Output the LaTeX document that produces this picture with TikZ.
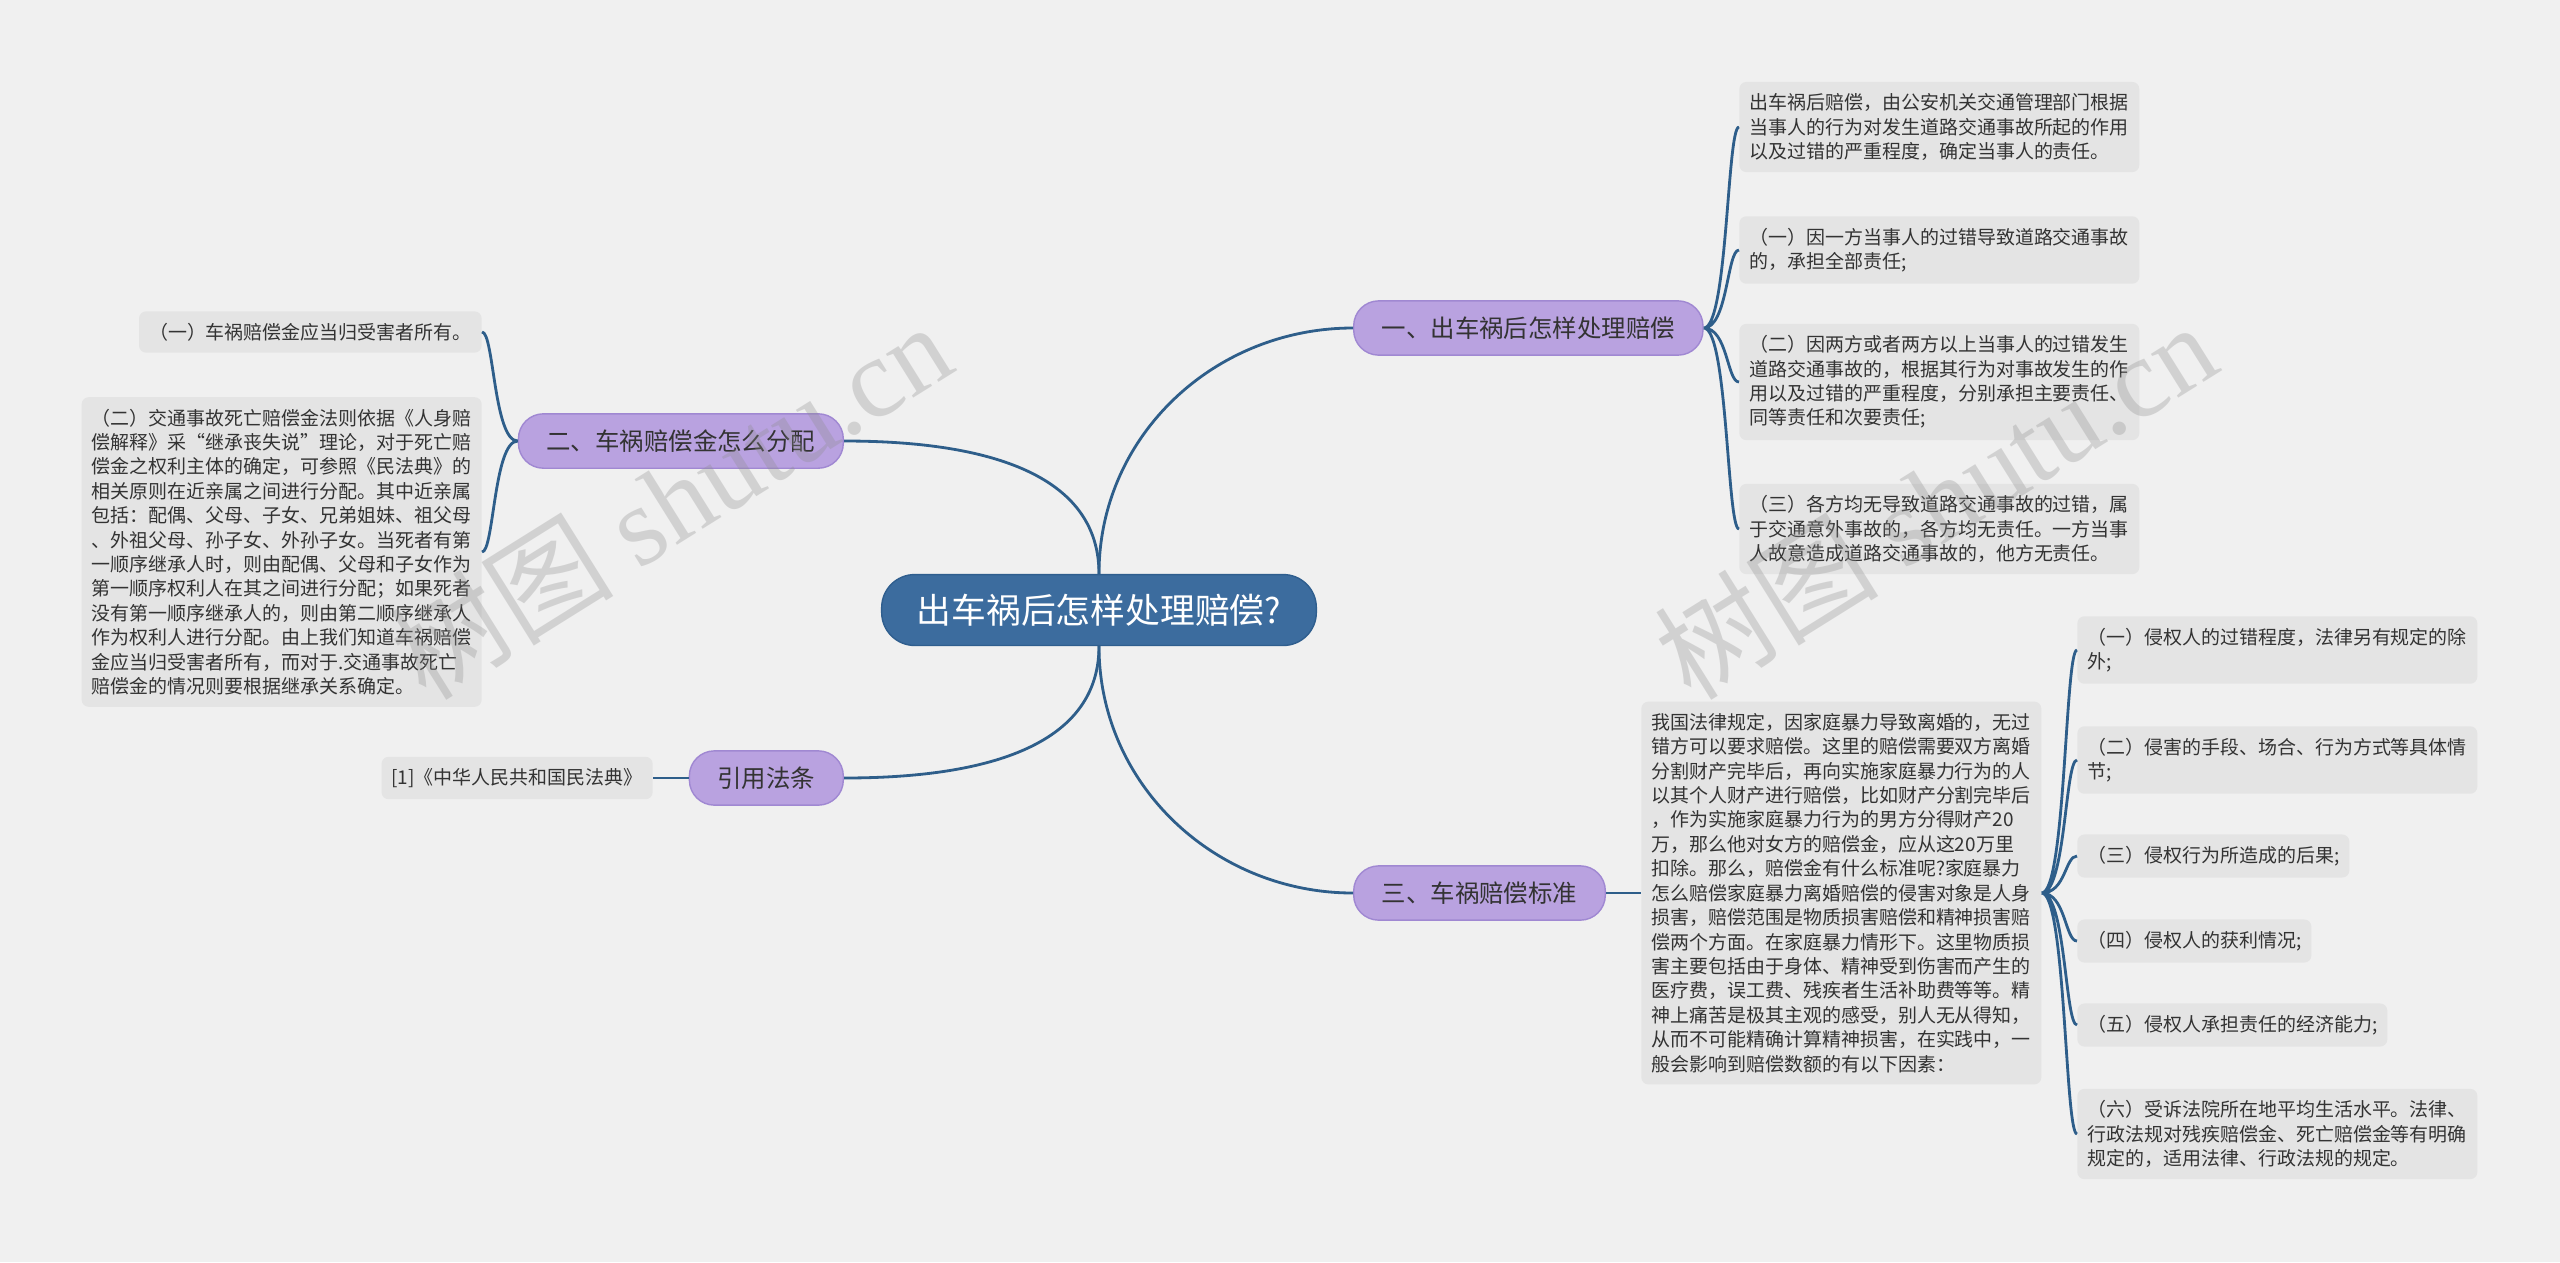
\documentclass[tikz,border=0pt]{standalone}
\usepackage{fontspec}
\newfontfamily\cjk{Noto Sans CJK SC}
\newfontfamily\wmserif{Liberation Serif}
\definecolor{bgcol}{HTML}{F0F0F0}
\definecolor{rootblue}{HTML}{3C6C9E}
\definecolor{rootline}{HTML}{2F5E8E}
\definecolor{branchpurple}{HTML}{B9A2E0}
\definecolor{branchline}{HTML}{A088D2}
\definecolor{leafgray}{HTML}{E4E4E4}
\definecolor{linkblue}{HTML}{2E5E8A}
\definecolor{txt}{HTML}{333333}

\begin{document}
\begin{tikzpicture}[x=0.02cm, y=-0.02cm] % 1 单位 = 1 px, y 轴向下
\tikzstyle{root} = [fill=rootblue, draw=rootline, line width=0.8pt, rounded corners=0.66cm, text=white, font=\cjk\fontsize{19.8pt}{24pt}\selectfont, inner xsep=20pt, inner ysep=11pt] % 中心主题
\tikzstyle{branch} = [fill=branchpurple, draw=branchline, line width=0.8pt, rounded corners=0.5cm, text=txt, font=\cjk\fontsize{13.9pt}{16pt}\selectfont, inner xsep=16pt, inner ysep=9pt] % 分支主题
\tikzstyle{leaf} = [fill=leafgray, rounded corners=4pt, text=txt, font=\cjk\fontsize{10.8pt}{13.9pt}\selectfont, inner xsep=5.7pt, inner ysep=6.6pt, align=left] % 子主题
\tikzstyle{wide} = [leaf, text width=7.6cm] % 多行子主题
\tikzstyle{conn} = [draw=linkblue, line width=1.6pt] % 连线
\tikzstyle{forkR} = [to path={.. controls +(24,0) and +(-12,0) .. (\tikztotarget)}] % 向右分叉
\tikzstyle{forkL} = [to path={.. controls +(-24,0) and +(12,0) .. (\tikztotarget)}] % 向左分叉
\tikzstyle{watermark} = [text=black!45, text opacity=0.3, font=\cjk\fontsize{64pt}{70pt}\selectfont, rotate=32] % 水印

\useasboundingbox (0,0) rectangle (2560,1262);
\fill[bgcol] (0,0) rectangle (2560,1262);

\node[root] (root) at (1099,610) {出车祸后怎样处理赔偿?};

\node[branch, anchor=west] (b1) at (1353,328) {一、出车祸后怎样处理赔偿};
\node[branch, anchor=east] (b2) at (844,441) {二、车祸赔偿金怎么分配};
\node[branch, anchor=east] (b4) at (844,778) {引用法条};
\node[branch, anchor=west] (b3) at (1353,893) {三、车祸赔偿标准};

% 一
\node[wide, anchor=west] (a1) at (1739,127) {出车祸后赔偿，由公安机关交通管理部门根据\\当事人的行为对发生道路交通事故所起的作用\\以及过错的严重程度，确定当事人的责任。};
\node[wide, anchor=west] (a2) at (1739,250) {（一）因一方当事人的过错导致道路交通事故\\的，承担全部责任;};
\node[wide, anchor=west] (a3) at (1739,382) {（二）因两方或者两方以上当事人的过错发生\\道路交通事故的，根据其行为对事故发生的作\\用以及过错的严重程度，分别承担主要责任、\\同等责任和次要责任;};
\node[wide, anchor=west] (a4) at (1739,529) {（三）各方均无导致道路交通事故的过错，属\\于交通意外事故的，各方均无责任。一方当事\\人故意造成道路交通事故的，他方无责任。};

% 二
\node[leaf, anchor=east] (d1) at (482,332) {（一）车祸赔偿金应当归受害者所有。};
\node[wide, anchor=east] (d2) at (482,552) {（二）交通事故死亡赔偿金法则依据《人身赔\\偿解释》采“继承丧失说”理论，对于死亡赔\\偿金之权利主体的确定，可参照《民法典》的\\相关原则在近亲属之间进行分配。其中近亲属\\包括：配偶、父母、子女、兄弟姐妹、祖父母\\、外祖父母、孙子女、外孙子女。当死者有第\\一顺序继承人时，则由配偶、父母和子女作为\\第一顺序权利人在其之间进行分配；如果死者\\没有第一顺序继承人的，则由第二顺序继承人\\作为权利人进行分配。由上我们知道车祸赔偿\\金应当归受害者所有，而对于.交通事故死亡\\赔偿金的情况则要根据继承关系确定。};

% 引用
\node[leaf, anchor=east] (c1) at (653,778) {[1]《中华人民共和国民法典》};

% 三
\node[wide, anchor=west] (s0) at (1641,893) {我国法律规定，因家庭暴力导致离婚的，无过\\错方可以要求赔偿。这里的赔偿需要双方离婚\\分割财产完毕后，再向实施家庭暴力行为的人\\以其个人财产进行赔偿，比如财产分割完毕后\\，作为实施家庭暴力行为的男方分得财产20\\万，那么他对女方的赔偿金，应从这20万里\\扣除。那么，赔偿金有什么标准呢?家庭暴力\\怎么赔偿家庭暴力离婚赔偿的侵害对象是人身\\损害，赔偿范围是物质损害赔偿和精神损害赔\\偿两个方面。在家庭暴力情形下。这里物质损\\害主要包括由于身体、精神受到伤害而产生的\\医疗费，误工费、残疾者生活补助费等等。精\\神上痛苦是极其主观的感受，别人无从得知，\\从而不可能精确计算精神损害，在实践中，一\\般会影响到赔偿数额的有以下因素：};
\node[wide, anchor=west] (s1) at (2077,650) {（一）侵权人的过错程度，法律另有规定的除\\外;};
\node[wide, anchor=west] (s2) at (2077,760) {（二）侵害的手段、场合、行为方式等具体情\\节;};
\node[leaf, anchor=west] (s3) at (2077,856) {（三）侵权行为所造成的后果;};
\node[leaf, anchor=west] (s4) at (2077,941) {（四）侵权人的获利情况;};
\node[leaf, anchor=west] (s5) at (2077,1025) {（五）侵权人承担责任的经济能力;};
\node[wide, anchor=west] (s6) at (2077,1134) {（六）受诉法院所在地平均生活水平。法律、\\行政法规对残疾赔偿金、死亡赔偿金等有明确\\规定的，适用法律、行政法规的规定。};

% 连线
\draw[conn] (root.north) to[out=90, in=180] (b1.west);
\draw[conn] (root.north) to[out=90, in=0] (b2.east);
\draw[conn] (root.south) to[out=-90, in=0] (b4.east);
\draw[conn] (root.south) to[out=-90, in=180] (b3.west);
\draw[conn] (b1.east) to[forkR] (a1.west) (b1.east) to[forkR] (a2.west)
                  (b1.east) to[forkR] (a3.west) (b1.east) to[forkR] (a4.west);
\draw[conn] (b2.west) to[forkL] (d1.east) (b2.west) to[forkL] (d2.east);
\draw[conn] (b4.west) -- (c1.east);
\draw[conn] (b3.east) -- (s0.west);
\draw[conn] (s0.east) to[forkR] (s1.west) (s0.east) to[forkR] (s2.west) (s0.east) to[forkR] (s3.west)
                  (s0.east) to[forkR] (s4.west) (s0.east) to[forkR] (s5.west) (s0.east) to[forkR] (s6.west);

% 水印
\node[watermark] (wm1) at (670,500) {树图 {\wmserif shutu.cn}};
\node[watermark] (wm2) at (1935,500) {树图 {\wmserif shutu.cn}};
\end{tikzpicture}
\end{document}
